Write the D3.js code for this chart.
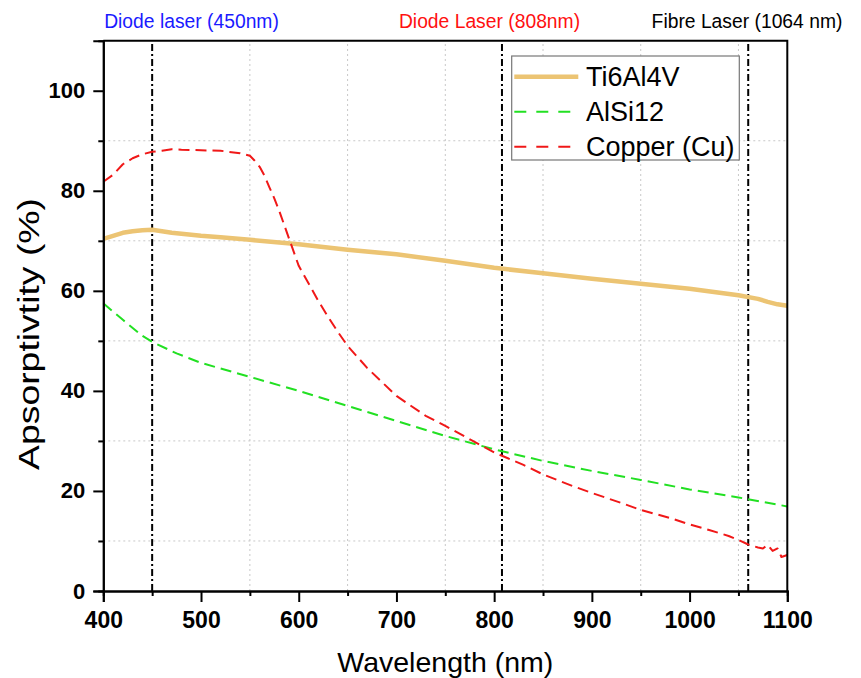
<!DOCTYPE html>
<html>
<head>
<meta charset="utf-8">
<script src="https://cdn.jsdelivr.net/npm/d3@7"></script>
<style>
  body { margin: 0; background: #fff; }
  text { font-family: "Liberation Sans", Arial, sans-serif; }
</style>
</head>
<body>
<div id="chart"></div>
<script>
// data
let ti_wl  = [400,410,420,430,440,450,460,470,480,500,520,550,600,650,700,750,800,850,900,950,1000,1050,1070,1080,1090,1100];
let ti_val = [70.4,71.0,71.6,71.9,72.1,72.2,71.9,71.6,71.4,71.0,70.7,70.2,69.3,68.2,67.3,66.0,64.6,63.5,62.4,61.4,60.4,59.1,58.4,57.8,57.3,57.0];

let al_wl  = [400,420,440,450,475,500,550,600,650,700,750,800,850,900,950,1000,1050,1100];
let al_val = [57.5,54.2,51.0,49.8,47.5,45.6,42.8,40.0,37.0,34.0,31.0,28.3,26.0,24.0,22.2,20.3,18.7,16.9];

let cu_wl  = [400,410,420,430,440,450,460,470,480,500,520,540,550,555,560,565,570,575,580,590,600,610,620,630,640,650,670,700,730,750,780,800,830,850,880,900,930,950,980,1000,1020,1040,1050,1060,1070,1075,1080,1085,1090,1094,1100];
let cu_val = [81.8,83.2,85.3,86.5,87.3,87.8,88.0,88.3,88.2,88.1,88.0,87.5,87.0,86.0,84.8,83.0,80.7,78.5,76.0,70.5,65.0,61.5,58.0,54.8,51.8,49.0,44.6,39.0,35.0,33.0,29.8,27.7,25.2,23.3,21.0,19.6,17.6,16.2,14.6,13.3,12.2,11.0,10.2,9.3,8.7,8.5,9.2,8.0,8.5,6.8,7.2];

let laser_lines = [450, 808, 1060];
let x_major = [400,500,600,700,800,900,1000,1100];
let x_minor = [450,550,650,750,850,950,1050];
let y_major = [0,20,40,60,80,100];
let y_minor = [10,30,50,70,90];

let series = [
  {name:"Ti6Al4V", wl:ti_wl, val:ti_val, color:"#ecc473", width:4.5, dash:null, ldash:null},
  {name:"AlSi12", wl:al_wl, val:al_val, color:"#22e022", width:2, dash:"11,6", ldash:"12,10"},
  {name:"Copper (Cu)", wl:cu_wl, val:cu_val, color:"#f01818", width:2, dash:"11,6", ldash:"12,10"}
];

let W = 861, H = 678;
let m = {left:103.3, right:861-787.3, top:40.7, bottom:678-591};

let svg = d3.select("#chart").append("svg")
  .attr("width", W).attr("height", H);

let x = d3.scaleLinear().domain([400,1100]).range([m.left, W-m.right]);
let y = d3.scaleLinear().domain([0,110]).range([H-m.bottom, m.top]);

// grid on the minor positions
let grid = svg.append("g").attr("stroke","#c8c8c8").attr("stroke-width",1).attr("stroke-dasharray","2,3");
grid.selectAll("line.gx").data(x_minor).enter().append("line")
  .attr("x1", d => x(d)).attr("x2", d => x(d))
  .attr("y1", y(0)).attr("y2", y(110));
grid.selectAll("line.gy").data(y_minor).enter().append("line")
  .attr("x1", x(400)).attr("x2", x(1100))
  .attr("y1", d => y(d)).attr("y2", d => y(d));

// laser markers
svg.append("g").selectAll("line").data(laser_lines).enter().append("line")
  .attr("x1", d => x(d)).attr("x2", d => x(d))
  .attr("y1", y(0)).attr("y2", y(110))
  .attr("stroke","#000").attr("stroke-width",2)
  .attr("stroke-dasharray","7,3,2,3");

// curves
let line = d3.line().x(d => x(d[0])).y(d => y(d[1]));
series.forEach(function(s){
  let pts = s.wl.map((w,i) => [w, s.val[i]]);
  svg.append("path")
    .datum(pts)
    .attr("d", line)
    .attr("fill","none")
    .attr("stroke", s.color)
    .attr("stroke-width", s.width)
    .attr("stroke-linejoin","round")
    .attr("stroke-dasharray", s.dash);
});

// axes
let xAxis = svg.append("g").attr("transform","translate(0,"+y(0)+")")
  .call(d3.axisBottom(x).tickValues(x_major).tickSize(11).tickPadding(10).tickFormat(d3.format("d")));
svg.append("g").attr("transform","translate(0,"+y(0)+")")
  .call(d3.axisBottom(x).tickValues(x_minor).tickSize(5).tickFormat(""));
let yAxis = svg.append("g").attr("transform","translate("+x(400)+",0)")
  .call(d3.axisLeft(y).tickValues(y_major).tickSize(10).tickPadding(8));
svg.append("g").attr("transform","translate("+x(400)+",0)")
  .call(d3.axisLeft(y).tickValues(y_minor).tickSize(5).tickFormat(""));

svg.selectAll(".domain").attr("stroke-width",2);
svg.selectAll(".tick line").attr("stroke-width",2);
xAxis.selectAll("text").attr("font-size",23).attr("font-weight","bold").attr("fill","#000");
yAxis.selectAll("text").attr("font-size",22).attr("font-weight","bold").attr("fill","#000");

// frame top / right
svg.append("path")
  .attr("d","M"+x(400)+","+y(110)+"H"+x(1100)+"V"+y(0))
  .attr("fill","none").attr("stroke","#000").attr("stroke-width",2);

// axis titles
svg.append("text")
  .attr("x",(x(400)+x(1100))/2).attr("y",672)
  .attr("text-anchor","middle").attr("font-size",28.5)
  .text("Wavelength (nm)");
svg.append("text")
  .attr("transform","translate(39,334) rotate(-90)")
  .attr("text-anchor","middle").attr("font-size",29)
  .attr("textLength",272).attr("lengthAdjust","spacingAndGlyphs")
  .text("Apsorptivtity (%)");

// laser labels above plot
let top_labels = [
  {t:"Diode laser (450nm)", cx:191.5, c:"#1a1aff"},
  {t:"Diode Laser (808nm)", cx:489.5, c:"#ff1010"},
  {t:"Fibre Laser (1064 nm)", cx:747, c:"#000"}
];
svg.selectAll("text.lab").data(top_labels).enter().append("text")
  .attr("x", d => d.cx).attr("y", 28)
  .attr("text-anchor","middle").attr("font-size",19.3)
  .attr("fill", d => d.c)
  .text(d => d.t);

// legend
let lg = svg.append("g");
lg.append("rect")
  .attr("x",511.7).attr("y",56).attr("width",227.6).attr("height",104)
  .attr("fill","#fff").attr("stroke","#777").attr("stroke-width",1.2);
series.forEach(function(s,i){
  let cy = 76.7 + i*35;
  lg.append("line")
    .attr("x1",514.3).attr("x2",578.3).attr("y1",cy).attr("y2",cy)
    .attr("stroke",s.color).attr("stroke-width",s.width)
    .attr("stroke-dasharray", s.ldash);
  lg.append("text")
    .attr("x",586).attr("y",cy+9.5)
    .attr("font-size",27)
    .text(s.name);
});
</script>
</body>
</html>
